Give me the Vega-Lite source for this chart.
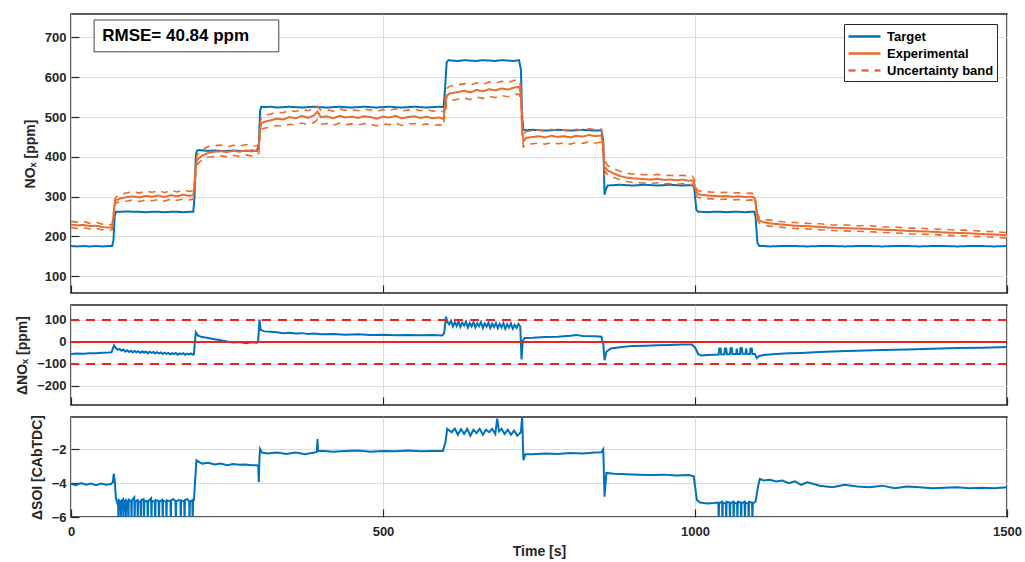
{
  "$schema": "https://vega.github.io/schema/vega-lite/v6.json",
  "padding": {"left": 14, "top": 13, "right": 5, "bottom": 4},
  "background": "white",
  "config": {
    "font": "Liberation Sans",
    "view": {"stroke": "#262626", "strokeWidth": 1.5},
    "axis": {
      "labelFont": "Liberation Sans", "labelFontWeight": "bold", "labelFontSize": 13, "labelColor": "#262626",
      "titleFont": "Liberation Sans", "titleFontWeight": "bold", "titleFontSize": 14, "titleColor": "#262626",
      "gridColor": "#dcdcdc", "gridWidth": 1, "domain": false, "labelOverlap": false,
      "tickColor": "#262626", "tickSize": -8, "tickWidth": 1.2, "labelPadding": 13, "titlePadding": 7, "labelFlush": false
    }
  },
  "datasets": {
    "top": [
      {"t":0,"tg":176,"ex":230,"up":238,"lo":223},
      {"t":10,"tg":175,"ex":228,"up":236,"lo":220},
      {"t":20,"tg":176,"ex":229,"up":238,"lo":222},
      {"t":30,"tg":175,"ex":226,"up":233,"lo":219},
      {"t":40,"tg":176,"ex":227,"up":236,"lo":220},
      {"t":50,"tg":175,"ex":224,"up":231,"lo":217},
      {"t":60,"tg":176,"ex":222,"up":229,"lo":216},
      {"t":66,"tg":176,"ex":223,"up":230,"lo":217},
      {"t":68,"tg":190,"ex":250,"up":258,"lo":242},
      {"t":70,"tg":250,"ex":283,"up":292,"lo":276},
      {"t":72,"tg":262,"ex":291,"up":299,"lo":284},
      {"t":80,"tg":262,"ex":296,"up":306,"lo":288},
      {"t":90,"tg":263,"ex":299,"up":310,"lo":289},
      {"t":100,"tg":262,"ex":301,"up":312,"lo":292},
      {"t":110,"tg":262,"ex":298,"up":309,"lo":288},
      {"t":120,"tg":261,"ex":302,"up":314,"lo":292},
      {"t":130,"tg":262,"ex":300,"up":311,"lo":290},
      {"t":140,"tg":262,"ex":303,"up":315,"lo":293},
      {"t":150,"tg":261,"ex":299,"up":310,"lo":289},
      {"t":160,"tg":262,"ex":304,"up":316,"lo":294},
      {"t":170,"tg":262,"ex":301,"up":312,"lo":291},
      {"t":180,"tg":261,"ex":305,"up":317,"lo":294},
      {"t":190,"tg":262,"ex":302,"up":313,"lo":292},
      {"t":196,"tg":262,"ex":304,"up":315,"lo":294},
      {"t":198,"tg":300,"ex":330,"up":340,"lo":320},
      {"t":200,"tg":405,"ex":372,"up":384,"lo":360},
      {"t":202,"tg":416,"ex":392,"up":404,"lo":380},
      {"t":206,"tg":417,"ex":398,"up":411,"lo":387},
      {"t":212,"tg":416,"ex":405,"up":419,"lo":394},
      {"t":220,"tg":415,"ex":410,"up":426,"lo":399},
      {"t":230,"tg":416,"ex":413,"up":428,"lo":401},
      {"t":240,"tg":415,"ex":414,"up":430,"lo":403},
      {"t":250,"tg":415,"ex":412,"up":425,"lo":400},
      {"t":260,"tg":416,"ex":415,"up":429,"lo":404},
      {"t":270,"tg":415,"ex":413,"up":426,"lo":401},
      {"t":280,"tg":415,"ex":416,"up":431,"lo":405},
      {"t":290,"tg":416,"ex":414,"up":427,"lo":402},
      {"t":298,"tg":415,"ex":415,"up":428,"lo":404},
      {"t":301,"tg":430,"ex":420,"up":433,"lo":409},
      {"t":303,"tg":515,"ex":470,"up":484,"lo":458},
      {"t":305,"tg":526,"ex":485,"up":500,"lo":470},
      {"t":310,"tg":525,"ex":488,"up":503,"lo":472},
      {"t":320,"tg":526,"ex":492,"up":508,"lo":475},
      {"t":330,"tg":524,"ex":496,"up":512,"lo":479},
      {"t":340,"tg":525,"ex":494,"up":511,"lo":477},
      {"t":350,"tg":526,"ex":500,"up":517,"lo":482},
      {"t":360,"tg":525,"ex":497,"up":514,"lo":480},
      {"t":370,"tg":524,"ex":503,"up":520,"lo":485},
      {"t":380,"tg":525,"ex":498,"up":516,"lo":481},
      {"t":390,"tg":526,"ex":505,"up":522,"lo":487},
      {"t":395,"tg":525,"ex":514,"up":527,"lo":494},
      {"t":400,"tg":525,"ex":500,"up":518,"lo":482},
      {"t":410,"tg":524,"ex":502,"up":519,"lo":484},
      {"t":420,"tg":525,"ex":497,"up":515,"lo":479},
      {"t":430,"tg":526,"ex":503,"up":521,"lo":485},
      {"t":440,"tg":525,"ex":499,"up":517,"lo":481},
      {"t":450,"tg":524,"ex":501,"up":519,"lo":483},
      {"t":460,"tg":525,"ex":498,"up":516,"lo":480},
      {"t":470,"tg":526,"ex":502,"up":520,"lo":484},
      {"t":480,"tg":525,"ex":500,"up":518,"lo":482},
      {"t":490,"tg":524,"ex":496,"up":514,"lo":478},
      {"t":500,"tg":525,"ex":501,"up":519,"lo":483},
      {"t":510,"tg":526,"ex":499,"up":517,"lo":481},
      {"t":520,"tg":525,"ex":503,"up":521,"lo":485},
      {"t":530,"tg":524,"ex":497,"up":515,"lo":479},
      {"t":540,"tg":525,"ex":500,"up":518,"lo":482},
      {"t":550,"tg":526,"ex":502,"up":520,"lo":484},
      {"t":560,"tg":525,"ex":498,"up":516,"lo":480},
      {"t":570,"tg":524,"ex":501,"up":519,"lo":483},
      {"t":580,"tg":525,"ex":497,"up":515,"lo":479},
      {"t":590,"tg":526,"ex":499,"up":517,"lo":481},
      {"t":597,"tg":525,"ex":495,"up":513,"lo":477},
      {"t":599,"tg":560,"ex":520,"up":536,"lo":504},
      {"t":602,"tg":638,"ex":552,"up":570,"lo":535},
      {"t":605,"tg":643,"ex":558,"up":576,"lo":540},
      {"t":610,"tg":642,"ex":560,"up":578,"lo":542},
      {"t":620,"tg":641,"ex":563,"up":581,"lo":545},
      {"t":630,"tg":643,"ex":566,"up":584,"lo":548},
      {"t":640,"tg":642,"ex":562,"up":580,"lo":544},
      {"t":650,"tg":641,"ex":568,"up":586,"lo":550},
      {"t":660,"tg":643,"ex":565,"up":583,"lo":547},
      {"t":670,"tg":642,"ex":570,"up":588,"lo":552},
      {"t":680,"tg":641,"ex":567,"up":585,"lo":549},
      {"t":690,"tg":643,"ex":572,"up":590,"lo":554},
      {"t":700,"tg":642,"ex":569,"up":587,"lo":551},
      {"t":710,"tg":641,"ex":574,"up":592,"lo":556},
      {"t":718,"tg":643,"ex":576,"up":593,"lo":558},
      {"t":721,"tg":620,"ex":560,"up":576,"lo":545},
      {"t":723,"tg":500,"ex":470,"up":484,"lo":452},
      {"t":725,"tg":468,"ex":440,"up":458,"lo":425},
      {"t":730,"tg":467,"ex":448,"up":464,"lo":431},
      {"t":740,"tg":468,"ex":450,"up":466,"lo":433},
      {"t":750,"tg":467,"ex":452,"up":468,"lo":435},
      {"t":760,"tg":466,"ex":449,"up":465,"lo":432},
      {"t":770,"tg":467,"ex":453,"up":469,"lo":436},
      {"t":780,"tg":468,"ex":450,"up":466,"lo":433},
      {"t":790,"tg":467,"ex":452,"up":468,"lo":435},
      {"t":800,"tg":466,"ex":449,"up":465,"lo":432},
      {"t":810,"tg":467,"ex":453,"up":469,"lo":436},
      {"t":820,"tg":468,"ex":451,"up":467,"lo":434},
      {"t":830,"tg":467,"ex":455,"up":471,"lo":438},
      {"t":840,"tg":466,"ex":452,"up":468,"lo":435},
      {"t":850,"tg":467,"ex":454,"up":470,"lo":437},
      {"t":853,"tg":440,"ex":420,"up":436,"lo":404},
      {"t":855,"tg":305,"ex":368,"up":380,"lo":356},
      {"t":857,"tg":318,"ex":372,"up":386,"lo":362},
      {"t":860,"tg":328,"ex":366,"up":378,"lo":356},
      {"t":870,"tg":329,"ex":358,"up":370,"lo":348},
      {"t":880,"tg":330,"ex":352,"up":364,"lo":342},
      {"t":890,"tg":329,"ex":348,"up":359,"lo":338},
      {"t":900,"tg":328,"ex":346,"up":357,"lo":336},
      {"t":910,"tg":329,"ex":345,"up":356,"lo":335},
      {"t":920,"tg":330,"ex":344,"up":355,"lo":334},
      {"t":930,"tg":329,"ex":343,"up":354,"lo":333},
      {"t":940,"tg":328,"ex":345,"up":356,"lo":335},
      {"t":950,"tg":329,"ex":342,"up":353,"lo":332},
      {"t":960,"tg":330,"ex":343,"up":354,"lo":333},
      {"t":970,"tg":329,"ex":341,"up":352,"lo":331},
      {"t":980,"tg":328,"ex":343,"up":354,"lo":333},
      {"t":990,"tg":329,"ex":340,"up":351,"lo":330},
      {"t":996,"tg":329,"ex":341,"up":352,"lo":331},
      {"t":999,"tg":320,"ex":332,"up":343,"lo":322},
      {"t":1002,"tg":268,"ex":312,"up":322,"lo":303},
      {"t":1005,"tg":262,"ex":306,"up":315,"lo":298},
      {"t":1010,"tg":262,"ex":305,"up":314,"lo":297},
      {"t":1020,"tg":261,"ex":303,"up":312,"lo":295},
      {"t":1030,"tg":262,"ex":302,"up":311,"lo":294},
      {"t":1040,"tg":262,"ex":301,"up":310,"lo":293},
      {"t":1050,"tg":261,"ex":302,"up":311,"lo":294},
      {"t":1060,"tg":262,"ex":300,"up":309,"lo":292},
      {"t":1070,"tg":262,"ex":301,"up":310,"lo":293},
      {"t":1080,"tg":261,"ex":299,"up":308,"lo":291},
      {"t":1090,"tg":262,"ex":300,"up":309,"lo":292},
      {"t":1095,"tg":262,"ex":298,"up":307,"lo":290},
      {"t":1097,"tg":250,"ex":285,"up":294,"lo":277},
      {"t":1100,"tg":185,"ex":250,"up":258,"lo":242},
      {"t":1103,"tg":176,"ex":240,"up":248,"lo":233},
      {"t":1110,"tg":176,"ex":236,"up":243,"lo":229},
      {"t":1120,"tg":175,"ex":233,"up":241,"lo":226},
      {"t":1140,"tg":176,"ex":230,"up":237,"lo":223},
      {"t":1160,"tg":176,"ex":227,"up":235,"lo":220},
      {"t":1180,"tg":175,"ex":226,"up":233,"lo":219},
      {"t":1200,"tg":176,"ex":224,"up":232,"lo":217},
      {"t":1220,"tg":176,"ex":222,"up":229,"lo":215},
      {"t":1240,"tg":175,"ex":221,"up":229,"lo":214},
      {"t":1260,"tg":176,"ex":220,"up":227,"lo":213},
      {"t":1280,"tg":176,"ex":219,"up":227,"lo":212},
      {"t":1300,"tg":175,"ex":217,"up":224,"lo":210},
      {"t":1320,"tg":176,"ex":216,"up":224,"lo":209},
      {"t":1340,"tg":176,"ex":214,"up":221,"lo":207},
      {"t":1360,"tg":175,"ex":213,"up":221,"lo":206},
      {"t":1380,"tg":176,"ex":212,"up":219,"lo":205},
      {"t":1400,"tg":176,"ex":210,"up":218,"lo":203},
      {"t":1420,"tg":175,"ex":209,"up":216,"lo":202},
      {"t":1440,"tg":176,"ex":208,"up":216,"lo":201},
      {"t":1460,"tg":176,"ex":206,"up":213,"lo":199},
      {"t":1480,"tg":175,"ex":205,"up":212,"lo":198},
      {"t":1500,"tg":176,"ex":203,"up":210,"lo":196}
    ],
    "mid": [
      {"t":0,"dn":-55},{"t":10,"dn":-53},{"t":20,"dn":-54},{"t":30,"dn":-51},{"t":40,"dn":-52},{"t":50,"dn":-49},{"t":60,"dn":-48},{"t":65,"dn":-47},
      {"t":67,"dn":-30},{"t":69,"dn":-16},{"t":72,"dn":-28},{"t":75,"dn":-36},{"t":78,"dn":-32},{"t":81,"dn":-40},{"t":84,"dn":-35},{"t":87,"dn":-44},
      {"t":90,"dn":-38},{"t":93,"dn":-46},{"t":96,"dn":-40},{"t":99,"dn":-48},{"t":102,"dn":-41},{"t":105,"dn":-47},{"t":108,"dn":-42},{"t":111,"dn":-50},
      {"t":114,"dn":-43},{"t":117,"dn":-49},{"t":120,"dn":-44},{"t":123,"dn":-52},{"t":126,"dn":-45},{"t":129,"dn":-50},{"t":132,"dn":-46},{"t":135,"dn":-53},
      {"t":138,"dn":-47},{"t":141,"dn":-52},{"t":144,"dn":-48},{"t":147,"dn":-55},{"t":150,"dn":-49},{"t":153,"dn":-54},{"t":156,"dn":-50},{"t":159,"dn":-57},
      {"t":162,"dn":-51},{"t":165,"dn":-55},{"t":168,"dn":-50},{"t":171,"dn":-58},{"t":174,"dn":-52},{"t":177,"dn":-56},{"t":180,"dn":-51},{"t":183,"dn":-58},
      {"t":186,"dn":-53},{"t":189,"dn":-57},{"t":192,"dn":-52},{"t":195,"dn":-58},{"t":197,"dn":-56},
      {"t":198,"dn":-20},{"t":200,"dn":44},{"t":203,"dn":30},{"t":210,"dn":22},{"t":220,"dn":18},{"t":230,"dn":12},{"t":240,"dn":8},{"t":250,"dn":2},
      {"t":260,"dn":-3},{"t":270,"dn":0},{"t":280,"dn":-6},{"t":290,"dn":-2},{"t":298,"dn":-4},{"t":300,"dn":5},
      {"t":302,"dn":102},{"t":304,"dn":55},{"t":310,"dn":48},{"t":320,"dn":46},{"t":330,"dn":44},{"t":340,"dn":40},{"t":350,"dn":42},{"t":360,"dn":38},
      {"t":370,"dn":40},{"t":380,"dn":36},{"t":390,"dn":38},{"t":400,"dn":35},{"t":420,"dn":36},{"t":440,"dn":33},{"t":460,"dn":35},{"t":480,"dn":32},
      {"t":500,"dn":33},{"t":520,"dn":30},{"t":540,"dn":32},{"t":560,"dn":30},{"t":580,"dn":31},{"t":595,"dn":29},{"t":598,"dn":40},
      {"t":601,"dn":115},{"t":603,"dn":92},{"t":606,"dn":80},{"t":609,"dn":95},{"t":612,"dn":70},{"t":615,"dn":90},{"t":618,"dn":72},{"t":621,"dn":93},
      {"t":624,"dn":68},{"t":627,"dn":88},{"t":630,"dn":74},{"t":633,"dn":92},{"t":636,"dn":65},{"t":639,"dn":86},{"t":642,"dn":70},{"t":645,"dn":90},
      {"t":648,"dn":66},{"t":651,"dn":85},{"t":654,"dn":72},{"t":657,"dn":90},{"t":660,"dn":64},{"t":663,"dn":84},{"t":666,"dn":70},{"t":669,"dn":88},
      {"t":672,"dn":63},{"t":675,"dn":83},{"t":678,"dn":68},{"t":681,"dn":86},{"t":684,"dn":62},{"t":687,"dn":82},{"t":690,"dn":66},{"t":693,"dn":85},
      {"t":696,"dn":60},{"t":699,"dn":80},{"t":702,"dn":65},{"t":705,"dn":84},{"t":708,"dn":60},{"t":711,"dn":78},{"t":714,"dn":64},{"t":717,"dn":82},
      {"t":720,"dn":70},{"t":722,"dn":-80},{"t":724,"dn":5},{"t":727,"dn":18},{"t":740,"dn":19},{"t":760,"dn":22},{"t":780,"dn":24},{"t":800,"dn":28},
      {"t":810,"dn":32},{"t":820,"dn":27},{"t":840,"dn":26},{"t":850,"dn":24},{"t":853,"dn":-10},{"t":855,"dn":-83},{"t":858,"dn":-45},{"t":865,"dn":-30},
      {"t":880,"dn":-24},{"t":900,"dn":-18},{"t":920,"dn":-17},{"t":940,"dn":-15},{"t":960,"dn":-14},{"t":980,"dn":-12},{"t":995,"dn":-12},
      {"t":1000,"dn":-25},{"t":1005,"dn":-55},{"t":1010,"dn":-62},{"t":1020,"dn":-60},{"t":1030,"dn":-58},{"t":1038,"dn":-57},
      {"t":1039,"dn":-30},{"t":1041,"dn":-30},{"t":1042,"dn":-57},{"t":1047,"dn":-56},{"t":1048,"dn":-30},{"t":1050,"dn":-30},{"t":1051,"dn":-56},
      {"t":1056,"dn":-56},{"t":1057,"dn":-29},{"t":1059,"dn":-29},{"t":1060,"dn":-55},{"t":1066,"dn":-55},{"t":1067,"dn":-30},{"t":1068,"dn":-55},
      {"t":1072,"dn":-55},{"t":1073,"dn":-28},{"t":1075,"dn":-28},{"t":1076,"dn":-54},{"t":1081,"dn":-54},{"t":1082,"dn":-29},{"t":1083,"dn":-54},
      {"t":1088,"dn":-55},{"t":1089,"dn":-30},{"t":1091,"dn":-30},{"t":1092,"dn":-55},{"t":1096,"dn":-55},{"t":1099,"dn":-74},{"t":1103,"dn":-64},
      {"t":1110,"dn":-60},{"t":1130,"dn":-55},{"t":1150,"dn":-52},{"t":1170,"dn":-50},{"t":1200,"dn":-46},{"t":1230,"dn":-43},{"t":1260,"dn":-40},
      {"t":1300,"dn":-37},{"t":1340,"dn":-34},{"t":1380,"dn":-31},{"t":1420,"dn":-28},{"t":1460,"dn":-26},{"t":1500,"dn":-23}
    ],
    "bot": [
      {"t":0,"ds":-4.05},{"t":8,"ds":-4.12},{"t":16,"ds":-4.0},{"t":24,"ds":-4.1},{"t":32,"ds":-4.03},{"t":40,"ds":-4.12},{"t":48,"ds":-4.02},{"t":56,"ds":-4.1},
      {"t":64,"ds":-4.05},{"t":67,"ds":-3.95},{"t":68.5,"ds":-3.45},{"t":70,"ds":-3.8},{"t":72,"ds":-4.9},{"t":74,"ds":-5.15},
      {"t":75.4,"ds":-5.05},{"t":76,"ds":-6.3},{"t":76.6,"ds":-5.0},{"t":79.4,"ds":-5.1},{"t":80,"ds":-6.3},{"t":80.6,"ds":-5.05},
      {"t":83.4,"ds":-4.95},{"t":84,"ds":-6.3},{"t":84.6,"ds":-5.1},{"t":87.4,"ds":-5.0},{"t":88,"ds":-6.3},{"t":88.6,"ds":-5.05},
      {"t":91.4,"ds":-5.1},{"t":92,"ds":-6.3},{"t":92.6,"ds":-4.98},{"t":96.4,"ds":-5.08},{"t":97,"ds":-6.3},{"t":97.6,"ds":-5.02},
      {"t":101.4,"ds":-4.85},{"t":102,"ds":-6.3},{"t":102.6,"ds":-5.1},{"t":106.4,"ds":-5.0},{"t":107,"ds":-6.3},{"t":107.6,"ds":-5.05},
      {"t":111.4,"ds":-5.12},{"t":112,"ds":-6.3},{"t":112.6,"ds":-5.0},{"t":116.4,"ds":-4.95},{"t":117,"ds":-6.3},{"t":117.6,"ds":-5.08},
      {"t":122.4,"ds":-5.05},{"t":123,"ds":-6.3},{"t":123.6,"ds":-5.1},{"t":128.4,"ds":-4.9},{"t":129,"ds":-6.3},{"t":129.6,"ds":-5.05},
      {"t":134.4,"ds":-5.1},{"t":135,"ds":-6.3},{"t":135.6,"ds":-5.0},{"t":140.4,"ds":-5.05},{"t":141,"ds":-6.3},{"t":141.6,"ds":-5.12},
      {"t":146.4,"ds":-4.98},{"t":147,"ds":-6.3},{"t":147.6,"ds":-5.05},{"t":152.4,"ds":-5.1},{"t":153,"ds":-6.3},{"t":153.6,"ds":-5.02},
      {"t":159.4,"ds":-5.08},{"t":160,"ds":-6.3},{"t":160.6,"ds":-5.0},{"t":164,"ds":-4.95},{"t":167.4,"ds":-5.05},{"t":168,"ds":-6.3},{"t":168.6,"ds":-5.1},
      {"t":172,"ds":-5.0},{"t":175.4,"ds":-5.05},{"t":176,"ds":-6.3},{"t":176.6,"ds":-5.02},{"t":181.4,"ds":-5.08},{"t":182,"ds":-6.3},{"t":182.6,"ds":-5.0},
      {"t":186,"ds":-4.95},{"t":189.4,"ds":-5.05},{"t":190,"ds":-6.3},{"t":190.6,"ds":-5.1},{"t":194.4,"ds":-5.0},{"t":195,"ds":-6.3},{"t":195.6,"ds":-5.05},
      {"t":197,"ds":-5.0},{"t":199,"ds":-3.8},{"t":201,"ds":-2.65},{"t":205,"ds":-2.75},{"t":210,"ds":-2.85},{"t":220,"ds":-2.8},{"t":230,"ds":-2.9},
      {"t":240,"ds":-2.85},{"t":250,"ds":-2.95},{"t":260,"ds":-2.88},{"t":270,"ds":-2.92},{"t":280,"ds":-2.9},{"t":290,"ds":-2.95},{"t":298,"ds":-2.95},
      {"t":300,"ds":-3.0},{"t":301,"ds":-3.95},{"t":302,"ds":-2.5},{"t":303,"ds":-1.98},{"t":306,"ds":-2.2},{"t":315,"ds":-2.25},{"t":330,"ds":-2.2},
      {"t":345,"ds":-2.28},{"t":360,"ds":-2.2},{"t":375,"ds":-2.3},{"t":390,"ds":-2.2},{"t":394,"ds":-2.15},{"t":395,"ds":-1.4},{"t":396,"ds":-2.1},
      {"t":405,"ds":-2.1},{"t":420,"ds":-2.15},{"t":440,"ds":-2.1},{"t":460,"ds":-2.08},{"t":480,"ds":-2.15},{"t":500,"ds":-2.1},{"t":520,"ds":-2.12},
      {"t":540,"ds":-2.08},{"t":560,"ds":-2.12},{"t":580,"ds":-2.1},{"t":596,"ds":-2.1},{"t":600,"ds":-1.6},{"t":603,"ds":-0.8},{"t":610,"ds":-1.0},
      {"t":615,"ds":-0.78},{"t":620,"ds":-1.15},{"t":625,"ds":-0.82},{"t":630,"ds":-1.1},{"t":635,"ds":-0.8},{"t":640,"ds":-1.2},{"t":645,"ds":-0.85},
      {"t":650,"ds":-1.05},{"t":655,"ds":-0.8},{"t":660,"ds":-1.15},{"t":665,"ds":-0.85},{"t":670,"ds":-1.0},{"t":675,"ds":-0.8},{"t":680,"ds":-1.1},
      {"t":683,"ds":-0.2},{"t":686,"ds":-0.95},{"t":690,"ds":-0.8},{"t":695,"ds":-1.1},{"t":700,"ds":-0.85},{"t":705,"ds":-1.15},{"t":710,"ds":-0.9},
      {"t":715,"ds":-1.2},{"t":721,"ds":-1.0},{"t":723,"ds":-0.05},{"t":725,"ds":-2.65},{"t":728,"ds":-2.3},{"t":740,"ds":-2.3},{"t":760,"ds":-2.25},
      {"t":780,"ds":-2.28},{"t":800,"ds":-2.22},{"t":820,"ds":-2.25},{"t":840,"ds":-2.2},{"t":850,"ds":-2.18},{"t":853,"ds":-2.0},{"t":855,"ds":-4.8},
      {"t":858,"ds":-3.4},{"t":870,"ds":-3.45},{"t":890,"ds":-3.48},{"t":910,"ds":-3.5},{"t":930,"ds":-3.52},{"t":950,"ds":-3.5},{"t":970,"ds":-3.55},
      {"t":990,"ds":-3.52},{"t":998,"ds":-3.6},{"t":1003,"ds":-5.0},{"t":1008,"ds":-5.15},{"t":1020,"ds":-5.2},{"t":1030,"ds":-5.18},
      {"t":1037.4,"ds":-5.15},{"t":1038,"ds":-6.3},{"t":1038.6,"ds":-5.2},{"t":1043.4,"ds":-5.1},{"t":1044,"ds":-6.3},{"t":1044.6,"ds":-5.15},
      {"t":1049.4,"ds":-5.2},{"t":1050,"ds":-6.3},{"t":1050.6,"ds":-5.1},{"t":1055.4,"ds":-5.15},{"t":1056,"ds":-6.3},{"t":1056.6,"ds":-5.2},
      {"t":1061.4,"ds":-5.1},{"t":1062,"ds":-6.3},{"t":1062.6,"ds":-5.15},{"t":1067.4,"ds":-5.2},{"t":1068,"ds":-6.3},{"t":1068.6,"ds":-5.1},
      {"t":1073.4,"ds":-5.15},{"t":1074,"ds":-6.3},{"t":1074.6,"ds":-5.2},{"t":1079.4,"ds":-5.1},{"t":1080,"ds":-6.3},{"t":1080.6,"ds":-5.15},
      {"t":1085.4,"ds":-5.2},{"t":1086,"ds":-6.3},{"t":1086.6,"ds":-5.1},{"t":1091.4,"ds":-5.15},{"t":1092,"ds":-6.3},{"t":1092.6,"ds":-5.2},
      {"t":1097,"ds":-5.1},{"t":1101,"ds":-4.2},{"t":1104,"ds":-3.75},{"t":1110,"ds":-3.85},{"t":1120,"ds":-3.8},{"t":1130,"ds":-3.9},{"t":1140,"ds":-3.85},
      {"t":1150,"ds":-4.0},{"t":1160,"ds":-3.9},{"t":1170,"ds":-4.1},{"t":1180,"ds":-3.95},{"t":1200,"ds":-4.15},{"t":1220,"ds":-4.25},{"t":1240,"ds":-4.1},
      {"t":1260,"ds":-4.2},{"t":1280,"ds":-4.25},{"t":1300,"ds":-4.15},{"t":1320,"ds":-4.3},{"t":1340,"ds":-4.2},{"t":1360,"ds":-4.25},{"t":1380,"ds":-4.3},
      {"t":1400,"ds":-4.28},{"t":1420,"ds":-4.25},{"t":1440,"ds":-4.3},{"t":1460,"ds":-4.27},{"t":1480,"ds":-4.3},{"t":1500,"ds":-4.25}
    ],
    "lims": [{"lim": 100}, {"lim": -100}],
    "zero": [{"lim": 0}],
    "one": [{}]
  },
  "spacing": 12,
  "bounds": "flush",
  "resolve": {"scale": {"y": "independent"}},
  "vconcat": [
    {
      "width": 936, "height": 279,
      "layer": [
        {
          "data": {"name": "top"},
          "mark": {"type": "line", "strokeWidth": 2, "clip": true},
          "encoding": {
            "x": {"field": "t", "type": "quantitative", "scale": {"domain": [0, 1500], "nice": false},
                  "axis": {"values": [0, 500, 1000, 1500], "labels": false, "title": null, "grid": true}},
            "y": {"field": "tg", "type": "quantitative", "title": "NOₓ [ppm]",
                  "scale": {"domain": [58, 759], "nice": false, "zero": false},
                  "axis": {"values": [100, 200, 300, 400, 500, 600, 700], "grid": true, "labelOverlap": false}},
            "color": {"datum": "Target", "type": "nominal",
                      "scale": {"domain": ["Target", "Experimental", "Uncertainty band"], "range": ["#0072BD", "#EC6B2D", "#EC6B2D"]},
                      "legend": {"title": null, "orient": "top-right", "offset": 10, "strokeColor": "#262626", "fillColor": "white",
                                 "padding": 3, "symbolType": "M-1,0H3", "symbolSize": 256, "symbolStrokeWidth": 2.5, "labelOffset": 21,
                                 "labelFontSize": 13, "labelFontWeight": "bold", "labelFont": "Liberation Sans", "labelColor": "black", "rowPadding": 0}},
            "strokeDash": {"datum": "Target", "type": "nominal",
                           "scale": {"domain": ["Target", "Experimental", "Uncertainty band"], "range": [[1, 0], [1, 0], [7, 6]]},
                           "legend": {"title": null, "orient": "top-right", "offset": 10, "strokeColor": "#262626", "fillColor": "white",
                                 "padding": 3, "symbolType": "M-1,0H3", "symbolSize": 256, "symbolStrokeWidth": 2.5, "labelOffset": 21,
                                 "labelFontSize": 13, "labelFontWeight": "bold", "labelFont": "Liberation Sans", "labelColor": "black", "rowPadding": 0}}
          }
        },
        {
          "data": {"name": "top"},
          "mark": {"type": "line", "strokeWidth": 2, "clip": true},
          "encoding": {
            "x": {"field": "t", "type": "quantitative"},
            "y": {"field": "ex", "type": "quantitative", "title": "NOₓ [ppm]"},
            "color": {"datum": "Experimental", "type": "nominal"},
            "strokeDash": {"datum": "Experimental", "type": "nominal"}
          }
        },
        {
          "data": {"name": "top"},
          "mark": {"type": "line", "strokeWidth": 1.6, "clip": true},
          "encoding": {
            "x": {"field": "t", "type": "quantitative"},
            "y": {"field": "up", "type": "quantitative", "title": "NOₓ [ppm]"},
            "color": {"datum": "Uncertainty band", "type": "nominal"},
            "strokeDash": {"datum": "Uncertainty band", "type": "nominal"}
          }
        },
        {
          "data": {"name": "top"},
          "mark": {"type": "line", "strokeWidth": 1.6, "clip": true},
          "encoding": {
            "x": {"field": "t", "type": "quantitative"},
            "y": {"field": "lo", "type": "quantitative", "title": "NOₓ [ppm]"},
            "color": {"datum": "Uncertainty band", "type": "nominal"},
            "strokeDash": {"datum": "Uncertainty band", "type": "nominal"}
          }
        },
        {
          "data": {"name": "one"},
          "mark": {"type": "rect", "fill": "white", "stroke": "#444444", "strokeWidth": 1},
          "encoding": {
            "x": {"datum": 37}, "x2": {"datum": 333},
            "y": {"datum": 744}, "y2": {"datum": 664}
          }
        },
        {
          "data": {"name": "one"},
          "mark": {"type": "text", "text": "RMSE= 40.84 ppm", "font": "Liberation Sans", "fontWeight": "bold", "fontSize": 17, "align": "left", "baseline": "middle", "fill": "black"},
          "encoding": {"x": {"datum": 50}, "y": {"datum": 704}}
        }
      ]
    },
    {
      "width": 936, "height": 100,
      "layer": [
        {
          "data": {"name": "mid"},
          "mark": {"type": "line", "strokeWidth": 2, "color": "#0072BD", "clip": true},
          "encoding": {
            "x": {"field": "t", "type": "quantitative", "scale": {"domain": [0, 1500], "nice": false},
                  "axis": {"values": [0, 500, 1000, 1500], "labels": false, "title": null, "grid": true}},
            "y": {"field": "dn", "type": "quantitative", "title": "ΔNOₓ [ppm]",
                  "scale": {"domain": [-287, 168], "nice": false, "zero": false},
                  "axis": {"values": [-200, -100, 0, 100], "grid": true, "labelOverlap": false}}
          }
        },
        {"data": {"name": "lims"}, "mark": {"type": "rule", "color": "#EE2222", "strokeWidth": 2, "strokeDash": [9, 7]},
         "encoding": {"y": {"field": "lim", "type": "quantitative", "title": "ΔNOₓ [ppm]",
                            "axis": {"values": [-200, -100, 0, 100], "grid": true, "labelOverlap": false}}}},
        {"data": {"name": "zero"}, "mark": {"type": "rule", "color": "#EE2222", "strokeWidth": 2},
         "encoding": {"y": {"field": "lim", "type": "quantitative", "title": "ΔNOₓ [ppm]",
                            "axis": {"values": [-200, -100, 0, 100], "grid": true, "labelOverlap": false}}}}
      ]
    },
    {
      "width": 936, "height": 100,
      "data": {"name": "bot"},
      "mark": {"type": "line", "strokeWidth": 2, "color": "#0072BD", "clip": true},
      "encoding": {
        "x": {"field": "t", "type": "quantitative", "scale": {"domain": [0, 1500], "nice": false},
              "axis": {"values": [0, 500, 1000, 1500], "format": "d", "title": "Time [s]", "grid": true, "labelPadding": 16, "titlePadding": 6}},
        "y": {"field": "ds", "type": "quantitative", "title": "ΔSOI [CAbTDC]",
              "scale": {"domain": [-6, -0.1], "nice": false, "zero": false},
              "axis": {"values": [-6, -4, -2], "grid": true, "labelOverlap": false}}
      }
    }
  ]
}
